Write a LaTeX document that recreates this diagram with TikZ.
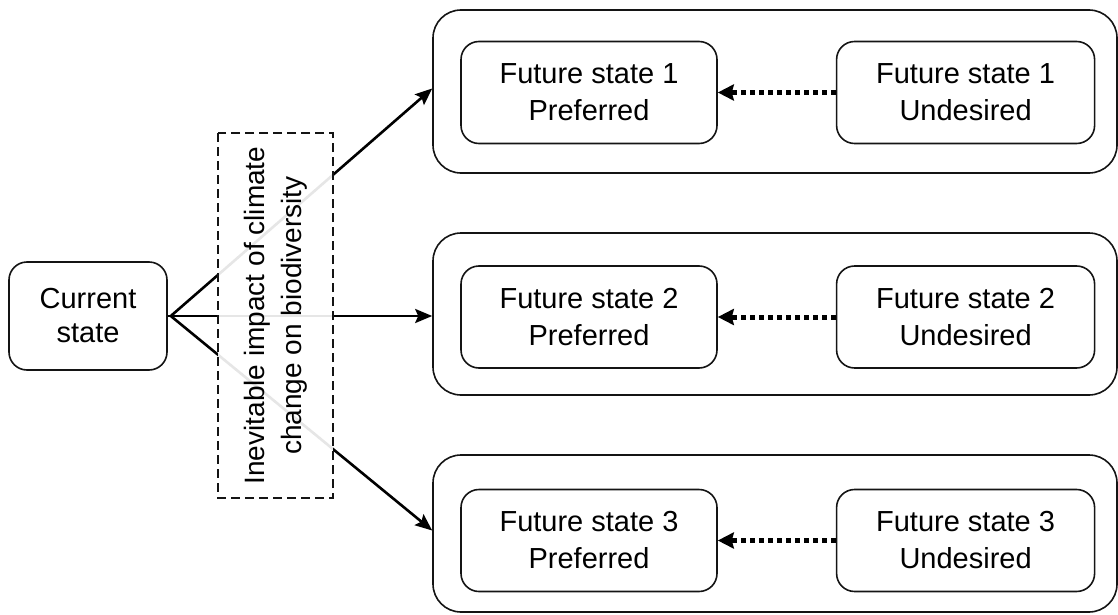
\documentclass[tikz,border=0pt]{standalone}
\usepackage{fontspec}
\setmainfont{Liberation Sans}
\usetikzlibrary{arrows.meta, positioning}
\definecolor{boxline}{RGB}{20,20,20}

\tikzset{
  statebox/.style={draw=boxline, line width=1.6pt, rounded corners=18pt, fill=white,
    align=center, font=\fontsize{29}{37}\selectfont, inner sep=0pt},
  groupbox/.style={draw=boxline, line width=1.6pt, rounded corners=28pt, inner sep=0pt},
  impactbox/.style={draw=boxline, line width=1.6pt, dash pattern=on 9pt off 5pt,
    fill=white, fill opacity=0.9, text opacity=1, align=center, rotate=90,
    font=\fontsize{28}{37}\selectfont, inner sep=0pt},
  flow/.style={-{Stealth[length=17pt, width=14pt, inset=3pt]}, line width=2.6pt},
  prefarrow/.style={-{Stealth[length=16pt, width=16pt, inset=2pt]}, line width=5pt,
    dash pattern=on 5pt off 4pt}
}

\begin{document}
\begin{tikzpicture}[x=1pt, y=-1pt]
  \useasboundingbox (0,0) rectangle (1118,615);

  \node[statebox, minimum width=158pt, minimum height=108pt,
        font=\fontsize{29}{34}\selectfont] (cur) at (88,316) {Current\\state};

  % one row per future state: outer frame, preferred and undesired boxes
  \foreach \i/\yo/\ho/\yi in {1/91.5/163/92.5, 2/314/162/317, 3/533.5/157/540.5} {
    \node[groupbox, minimum width=684pt, minimum height=\ho pt] (grp\i) at (775,\yo) {};
    \node[statebox, minimum width=256pt, minimum height=102pt] (pref\i) at (589,\yi)
      {Future state \i\\Preferred};
    \node[statebox, minimum width=258pt, minimum height=102pt, right=118pt of pref\i]
      (undes\i) {Future state \i\\Undesired};
    \draw[prefarrow] (undes\i.west) -- (pref\i.east);
  }

  \coordinate (fork) at ([xshift=3pt]cur.east);
  \draw[line width=2.6pt] (cur.east) -- (fork);
  \draw[flow] (fork) -- ([yshift=3pt]grp1.west);
  \draw[flow] (fork) -- (grp2.west |- fork);
  \draw[flow] (fork) -- ([yshift=3pt]grp3.west);

  % drawn last so that it lies over the three branches
  \node[impactbox, minimum width=365pt, minimum height=115pt] (impact) at (275.5,315.5)
    {Inevitable impact of climate\\change on biodiversity};
\end{tikzpicture}
\end{document}
